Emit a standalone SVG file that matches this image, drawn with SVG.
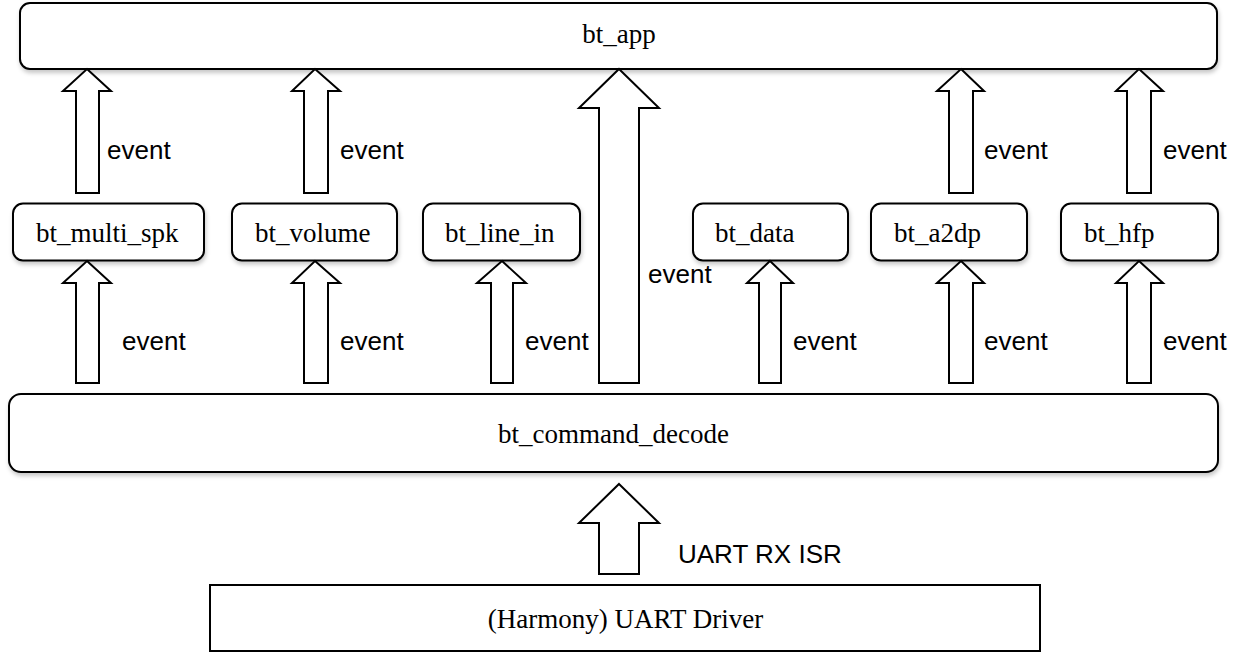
<svg xmlns="http://www.w3.org/2000/svg" width="1239" height="653" viewBox="0 0 1239 653">
<style>
.box{fill:#fff;stroke:#000;stroke-width:2}
.shadow{filter:url(#sh)}
.arrow{fill:#fff;stroke:#000;stroke-width:2;stroke-linejoin:miter}
.t{font-family:"Liberation Serif","Times New Roman",serif;font-size:27px;fill:#000}
.lbl{font-family:"Liberation Sans",Arial,sans-serif;font-size:26px;fill:#000}
</style>
<defs>
<filter id="sh" x="-5%" y="-20%" width="110%" height="150%">
<feDropShadow dx="1" dy="3" stdDeviation="2" flood-color="#000" flood-opacity="0.22"/>
</filter>
</defs>
<rect width="1239" height="653" fill="#fff"/>

<g id="bt_app">
<rect class="box shadow" x="20" y="3" width="1197" height="66" rx="10"/>
<text class="t" x="619" y="43" text-anchor="middle">bt_app</text>
</g>
<g id="bt_multi_spk">
<rect class="box shadow" x="13" y="203.5" width="191" height="57" rx="10"/>
<text class="t" x="36" y="242">bt_multi_spk</text>
</g>
<g id="bt_volume">
<rect class="box shadow" x="232" y="203.5" width="165" height="57" rx="10"/>
<text class="t" x="255" y="242">bt_volume</text>
</g>
<g id="bt_line_in">
<rect class="box shadow" x="423" y="203.5" width="157" height="57" rx="10"/>
<text class="t" x="445" y="242">bt_line_in</text>
</g>
<g id="bt_data">
<rect class="box shadow" x="693" y="203.5" width="155" height="57" rx="10"/>
<text class="t" x="715" y="242">bt_data</text>
</g>
<g id="bt_a2dp">
<rect class="box shadow" x="871" y="203.5" width="156" height="57" rx="10"/>
<text class="t" x="894" y="242">bt_a2dp</text>
</g>
<g id="bt_hfp">
<rect class="box shadow" x="1061" y="203.5" width="157" height="57" rx="10"/>
<text class="t" x="1084" y="242">bt_hfp</text>
</g>
<g id="bt_command_decode">
<rect class="box shadow" x="9" y="394" width="1209" height="78" rx="12"/>
<text class="t" x="613.5" y="443" text-anchor="middle">bt_command_decode</text>
</g>
<g id="uart_driver">
<rect class="box" x="210" y="585" width="830" height="66"/>
<text class="t" x="625.5" y="628" text-anchor="middle">(Harmony) UART Driver</text>
</g>

<g id="connectors">
<!-- upper row: module -> bt_app -->
<path class="arrow" d="M87,69 L111,91 L99,91 L99,193 L76,193 L76,91 L63,91 Z"/>
<path class="arrow" d="M315,69 L340,91 L328,91 L328,193 L304,193 L304,91 L292,91 Z"/>
<path class="arrow" d="M961,69 L984,91 L973,91 L973,193 L949,193 L949,91 L937,91 Z"/>
<path class="arrow" d="M1139,69 L1163,91 L1151,91 L1151,193 L1127,193 L1127,91 L1116,91 Z"/>
<!-- big arrow: bt_command_decode -> bt_app -->
<path class="arrow" d="M619,69 L659,108 L639,108 L639,383 L599,383 L599,108 L579,108 Z"/>
<!-- lower row: bt_command_decode -> modules -->
<path class="arrow" d="M87,261 L111,283 L99,283 L99,383 L76,383 L76,283 L63,283 Z"/>
<path class="arrow" d="M315,261 L340,283 L328,283 L328,383 L304,383 L304,283 L292,283 Z"/>
<path class="arrow" d="M502,261 L526,283 L513,283 L513,383 L491,383 L491,283 L477,283 Z"/>
<path class="arrow" d="M770,261 L793,283 L781,283 L781,383 L759,383 L759,283 L747,283 Z"/>
<path class="arrow" d="M961,261 L984,283 L973,283 L973,383 L949,383 L949,283 L937,283 Z"/>
<path class="arrow" d="M1139,261 L1163,283 L1151,283 L1151,383 L1127,383 L1127,283 L1116,283 Z"/>
<!-- UART arrow -->
<path class="arrow" d="M619,484 L659,523 L639,523 L639,574 L599,574 L599,523 L579,523 Z"/>

<text class="lbl" x="107" y="159">event</text>
<text class="lbl" x="340" y="159">event</text>
<text class="lbl" x="984" y="159">event</text>
<text class="lbl" x="1163" y="159">event</text>
<text class="lbl" x="648" y="283">event</text>
<text class="lbl" x="122" y="350">event</text>
<text class="lbl" x="340" y="350">event</text>
<text class="lbl" x="525" y="350">event</text>
<text class="lbl" x="793" y="350">event</text>
<text class="lbl" x="984" y="350">event</text>
<text class="lbl" x="1163" y="350">event</text>
<text class="lbl" x="678" y="563">UART RX ISR</text>
</g>
</svg>
